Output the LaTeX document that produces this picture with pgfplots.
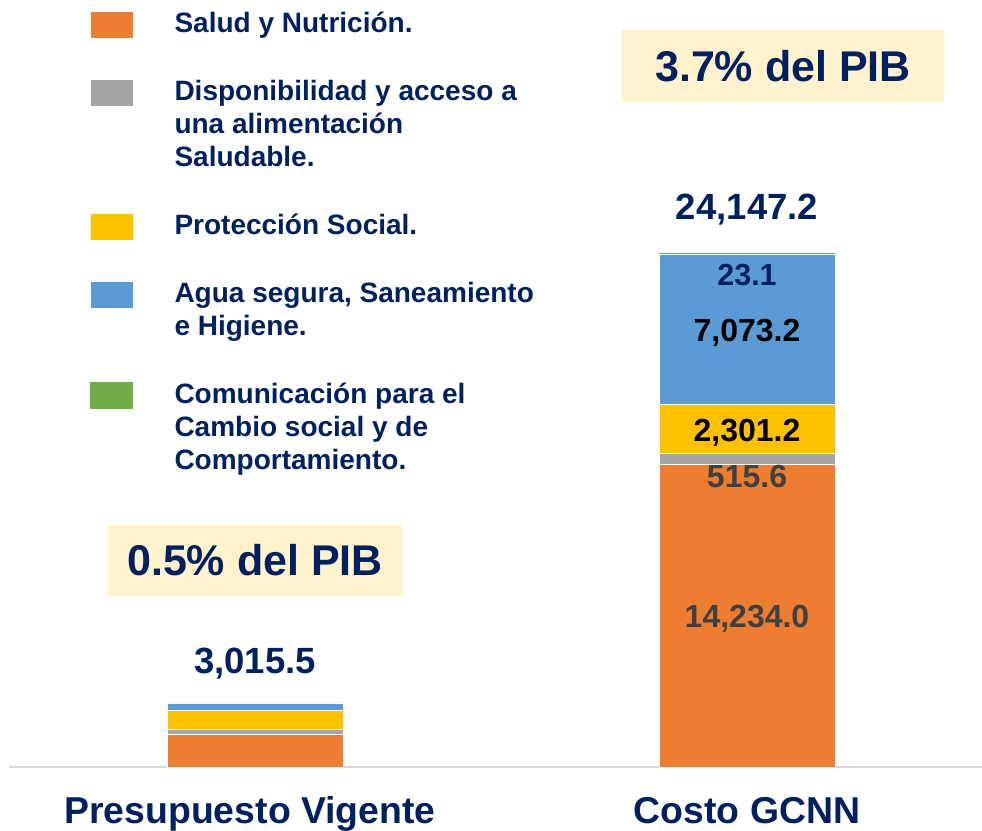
\documentclass[border=0pt]{standalone}
\usepackage{fontspec}
\setmainfont{Liberation Sans}
\usepackage{pgfplots}
\pgfplotsset{compat=1.18}
\definecolor{navy}{HTML}{002060}
\definecolor{cOr}{HTML}{ED7D31}
\definecolor{cGr}{HTML}{A5A5A5}
\definecolor{cYe}{HTML}{FFC000}
\definecolor{cBl}{HTML}{5B9BD5}
\definecolor{cGn}{HTML}{70AD47}
\definecolor{boxc}{HTML}{FFF2CC}
\definecolor{lab}{HTML}{404040}
\newcommand{\legtxt}[1]{\begin{tabular}[t]{@{}l@{}}#1\end{tabular}}
\begin{document}
\begin{tikzpicture}
\begin{axis}[
  width=973pt, height=767pt, scale only axis,
  xmin=-0.5, xmax=1.4776, ymin=0, ymax=36054,
  ybar stacked, bar width=176pt,
  axis x line*=bottom, axis y line=none,
  x axis line style={draw={rgb,255:red,217;green,217;blue,217}, line width=1.5pt},
  xtick={0,1}, xticklabels={Presupuesto Vigente\hspace*{10pt}, Costo GCNN},
  ytick=\empty,
  major tick length=0pt, tick style={draw=none},
  xticklabel style={font=\bfseries\fontsize{37.4}{40}\selectfont, text=navy, anchor=base, yshift=-56pt},
  clip=false,
  point meta=explicit symbolic,
  nodes near coords,
  every node near coord/.style={anchor=base, font=\bfseries\fontsize{32}{34}\selectfont},
  legend style={at={(0.08325,0.988)}, anchor=north west, draw=none, fill=none,
    inner sep=0pt, outer sep=0pt,
    font=\bfseries\fontsize{28}{33}\selectfont, text=navy,
    row sep=35pt, column sep=41pt,
    cells={anchor=base west},
    nodes={inner sep=0pt, anchor=base west, text depth=, text height=}},
  legend image code/.code={\fill[#1] (0pt,-6pt) rectangle (43pt,21pt);},
]
\addplot+[fill=cOr, draw=white, line width=0.5pt,
  nodes near coords style={text=lab, yshift=-12.4pt}]
  coordinates {(0,1540) [] (1,14234.0) [14,234.0]};
\addlegendentry{\legtxt{Salud y Nutrición.}}
\addplot+[fill=cGr, draw=white, line width=0.5pt,
  nodes near coords style={text=lab, yshift=-28.3pt}]
  coordinates {(0,228) [] (1,515.6) [515.6]};
\addlegendentry{\legtxt{Disponibilidad y acceso a\\una alimentación\\Saludable.}}
\addplot+[fill=cYe, draw=white, line width=0.5pt,
  nodes near coords style={text=black, yshift=-12.9pt}]
  coordinates {(0,882) [] (1,2301.2) [2,301.2]};
\addlegendentry{\legtxt{Protección Social.}}
\addplot+[fill=cBl, draw=white, line width=0.5pt,
  nodes near coords style={text=black, yshift=-12pt}]
  coordinates {(0,365.5) [] (1,7073.2) [7,073.2]};
\addlegendentry{\legtxt{Agua segura, Saneamiento\\e Higiene.}}
\addplot+[fill=cGn, draw=none,
  nodes near coords style={text=navy, yshift=-31.5pt, font=\bfseries\fontsize{30.5}{32}\selectfont}]
  coordinates {(0,0) [] (1,23.1) [23.1]};
\addlegendentry{\legtxt{Comunicación para el\\Cambio social y de\\Comportamiento.}}

% totals
\node[anchor=base, font=\bfseries\fontsize{36.5}{38}\selectfont, text=navy] at (axis cs:1,25759) {24,147.2};
\node[anchor=base, font=\bfseries\fontsize{36.5}{38}\selectfont, text=navy] at (axis cs:0,4372) {3,015.5};
% PIB boxes
\node[fill=boxc, minimum width=322pt, minimum height=72pt, inner sep=0pt,
  text height=31pt, text depth=0pt, font=\bfseries\fontsize{43}{45}\selectfont, text=navy]
  at (axis cs:1.07317,32951) {3.7\% del PIB};
\node[fill=boxc, minimum width=294pt, minimum height=71pt, inner sep=0pt,
  text height=31pt, text depth=0pt, font=\bfseries\fontsize{43}{45}\selectfont, text=navy]
  at (axis cs:0,9707) {0.5\% del PIB};
\end{axis}
\pgfresetboundingbox
\useasboundingbox (-9pt,-63pt) rectangle (973pt,767pt);
\end{tikzpicture}
\end{document}
